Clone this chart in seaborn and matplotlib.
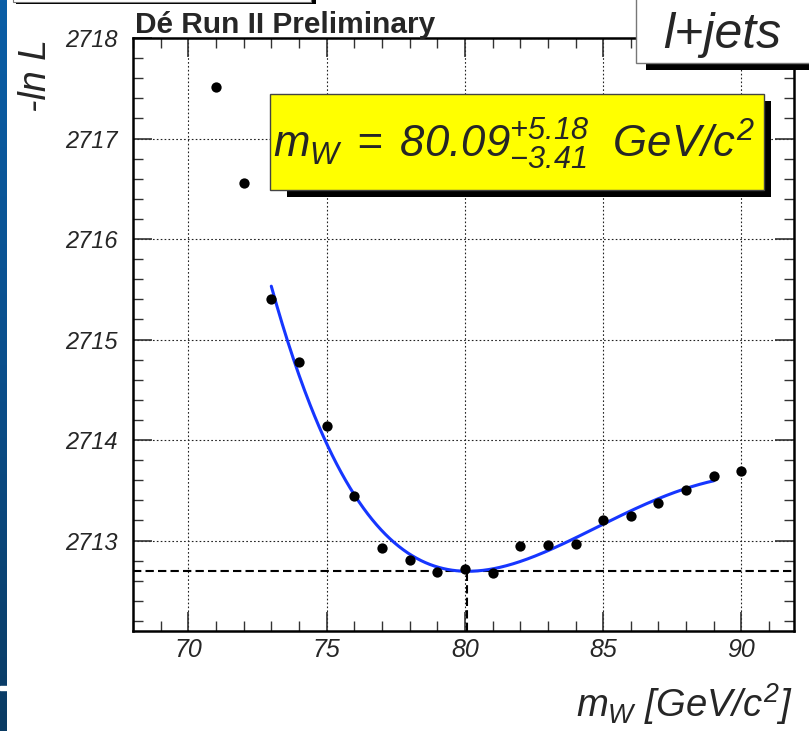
import numpy as np
import pandas as pd
import seaborn as sns
import matplotlib
matplotlib.use("Agg")
import matplotlib.pyplot as plt
from matplotlib.patches import Rectangle
from matplotlib.ticker import MultipleLocator, FormatStrFormatter

# ---------------- data ----------------
mass = [71, 72, 73, 74, 75, 76, 77, 78, 79, 80,
        81, 82, 83, 84, 85, 86, 87, 88, 89, 90]
neg_log_l = [2717.51, 2716.56, 2715.40, 2714.78, 2714.14, 2713.44, 2712.93,
             2712.81, 2712.69, 2712.72, 2712.68, 2712.95, 2712.96, 2712.97,
             2713.20, 2713.24, 2713.37, 2713.50, 2713.64, 2713.69]
fit_lo, fit_hi = 73, 89
fit_degree = 4
mw_fit = 80.09
err_up = 5.18
err_dn = 3.41
x_ticks = [70, 75, 80, 85, 90]
y_ticks = [2713, 2714, 2715, 2716, 2717, 2718]

df = pd.DataFrame({"mass": mass, "nll": neg_log_l})
sel = df[(df.mass >= fit_lo) & (df.mass <= fit_hi)]
coef = np.polyfit(sel.mass, sel.nll, fit_degree)
xs = np.linspace(fit_lo, fit_hi, 400)
curve = pd.DataFrame({"mass": xs, "nll": np.polyval(coef, xs)})
nll_min = float(np.polyval(coef, mw_fit))

# ---------------- styling ----------------
sns.set_theme(style="ticks")
plt.rcParams["font.family"] = ["Liberation Sans", "DejaVu Sans"]
plt.rcParams["mathtext.fontset"] = "custom"
plt.rcParams["mathtext.it"] = "Liberation Sans:italic"
plt.rcParams["mathtext.rm"] = "Liberation Sans:italic"
plt.rcParams["mathtext.sf"] = "Liberation Sans:italic"
plt.rcParams["mathtext.bf"] = "Liberation Sans:bold"
plt.rcParams["mathtext.default"] = "it"

W, H = 809, 731
fig = plt.figure(figsize=(W / 100, H / 100), dpi=100)
fig.patch.set_facecolor("white")


def fx(px):
    return px / W


def fy(py):
    return 1 - py / H


ax_l, ax_r, ax_t, ax_b = 133, 794, 38, 631
ax = fig.add_axes([fx(ax_l), fy(ax_b), (ax_r - ax_l) / W, (ax_b - ax_t) / H])
ax.set_facecolor("white")

# grid
ax.set_xticks(x_ticks)
ax.set_yticks(y_ticks)
ax.grid(True, which="major", color="#222222", linestyle=(0, (1.5, 2)),
        linewidth=0.8)
ax.set_axisbelow(True)

# fit curve and points
sns.lineplot(data=curve, x="mass", y="nll", ax=ax, color="#1636ff",
             linewidth=2.2, zorder=3)
sns.scatterplot(data=df, x="mass", y="nll", ax=ax, color="black", s=55,
                edgecolor="black", linewidth=0, zorder=4)

# minimum indicators
ax.axhline(nll_min, color="black", linestyle=(0, (4, 2)), linewidth=1.5, zorder=2)
ax.plot([mw_fit, mw_fit], [2712.1, nll_min], color="black",
        linestyle=(0, (4, 2)), linewidth=1.5, zorder=2)

ax.set_xlim(68, 91.9)
ax.set_ylim(2712.1, 2718.0)
ax.xaxis.set_minor_locator(MultipleLocator(1))
ax.yaxis.set_minor_locator(MultipleLocator(0.2))
ax.yaxis.set_major_formatter(FormatStrFormatter("%d"))
ax.tick_params(which="both", direction="in", top=True, right=True,
               color="#333333")
ax.tick_params(which="major", length=14, width=1.2)
ax.tick_params(which="minor", length=7, width=1.0)
ax.tick_params(axis="x", which="major", labelsize=18, pad=5)
ax.tick_params(axis="y", which="major", labelsize=17, pad=11)
for lab in ax.get_xticklabels() + ax.get_yticklabels():
    lab.set_fontstyle("italic")
for sp in ax.spines.values():
    sp.set_linewidth(1.8)
    sp.set_color("black")
ax.set_xlabel("")
ax.set_ylabel("")

# axis titles
fig.text(fx(793), fy(717), r"$m_W\ [GeV/c^{2}]$", fontsize=27.5,
         ha="right", va="baseline")
fig.text(fx(36), fy(76), "-ln L", fontsize=27, style="italic",
         rotation=90, ha="center", va="center")

# experiment label
fig.text(fx(135), fy(33), "Dé Run II Preliminary", fontsize=21.5,
         fontweight="bold", ha="left", va="baseline")

# yellow result box with shadow
bx0, by0, bx1, by1 = 270, 94, 764, 190
sh = 7
fig.patches.append(Rectangle((fx(bx0 + sh + 10), fy(by1 + sh)),
                             (bx1 - bx0 - 10) / W, (by1 - by0) / H,
                             transform=fig.transFigure, facecolor="black",
                             edgecolor="none", zorder=5))
fig.patches.append(Rectangle((fx(bx0), fy(by1)), (bx1 - bx0) / W,
                             (by1 - by0) / H, transform=fig.transFigure,
                             facecolor="#ffff00", edgecolor="#444444",
                             linewidth=1.0, zorder=6))
fig.text(fx(514), fy(158),
         r"$m_W\;=\;80.09^{+%.2f}_{-%.2f}\ \ GeV/c^2$" % (err_up, err_dn),
         fontsize=31.5, ha="center", va="baseline", zorder=7)

# l+jets box with shadow
fig.patches.append(Rectangle((fx(646), fy(70)), (W - 646) / W, 8 / H,
                             transform=fig.transFigure, facecolor="black",
                             edgecolor="none", zorder=5))
fig.patches.append(Rectangle((fx(636), fy(62.5)), (W - 636 + 5) / W, 66 / H,
                             transform=fig.transFigure, facecolor="white",
                             edgecolor="#777777", linewidth=1.0, zorder=6))
fig.text(fx(722), fy(48), "l+jets", fontsize=36, style="italic",
         ha="center", va="baseline", zorder=7)

# truncated box at top left
fig.patches.append(Rectangle((fx(16), fy(4)), 300 / W, 5 / H,
                             transform=fig.transFigure, facecolor="black",
                             edgecolor="none", zorder=5))
fig.patches.append(Rectangle((fx(13), fy(2)), 298 / W, 4 / H,
                             transform=fig.transFigure, facecolor="white",
                             edgecolor="#777777", linewidth=0.8, zorder=6))

# slide background strip on the left
strip = fig.add_axes([0, 0, 7 / W, 1])
grad = np.linspace(0, 1, 256).reshape(-1, 1)
cmap = matplotlib.colors.LinearSegmentedColormap.from_list(
    "strip", ["#0b5ea6", "#0a4f8c", "#0b3b63"])
strip.imshow(grad, aspect="auto", cmap=cmap, extent=[0, 1, 0, 1],
             origin="upper")
strip.axhspan(1 - 690 / H, 1 - 686 / H, color="white")
strip.set_axis_off()

fig.savefig("out.png", dpi=100, facecolor="white")
